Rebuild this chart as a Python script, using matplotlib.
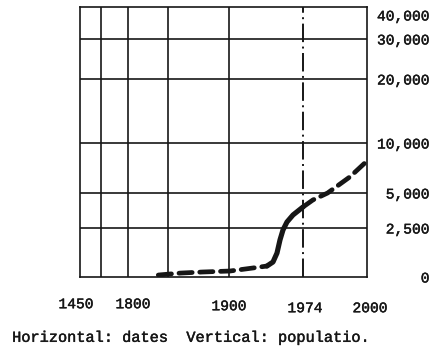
import numpy as np
import matplotlib
matplotlib.use("Agg")
import matplotlib.pyplot as plt
import matplotlib.patheffects as pe
from matplotlib.transforms import ScaledTranslation

# world population (millions) against date
years = [1830, 1852, 1874, 1901, 1924, 1938, 1944, 1948, 1951, 1954,
         1958, 1964, 1974, 1978, 1984, 1993, 2000]
population = [100, 200, 255, 305, 460, 560, 765, 1220, 1890, 2400,
              2930, 3430, 4000, 4500, 5000, 6600, 8200]

date_labels = ["1450", "1800", "1900", "1974", "2000"]
date_ticks = [1450, 1800, 1900, 1974, 2000]
pop_ticks = [0, 2500, 5000, 10000, 20000, 30000, 40000]
pop_labels = ["0", "2,500", "5,000", "10,000", "20,000", "30,000", "40,000"]
grid_years = [1600, 1800, 1840, 1900]
today = 1974

# hand-drawn, uneven axes: piecewise-linear scales
x_years = [1450, 1800, 1900, 1974, 2000]
x_pos = [0, 48, 149, 223, 287]
y_vals = [0, 2500, 5000, 10000, 20000, 30000, 40000]
y_pos = [0, 49, 84, 134, 198, 238, 270]

def x_fwd(v):
    return np.interp(v, x_years, x_pos)

def x_inv(p):
    return np.interp(p, x_pos, x_years)

def y_fwd(v):
    return np.interp(v, y_vals, y_pos)

def y_inv(p):
    return np.interp(p, y_pos, y_vals)

ink = "#161616"
mono = "Liberation Mono"
# typewriter ink spreads a little
typed = [pe.withStroke(linewidth=0.3, foreground=ink)]

fig = plt.figure(figsize=(4.34, 3.53), dpi=100)
ax = fig.add_axes([0.1843, 0.2153, 0.6613, 0.7649])
ax.set_xscale("function", functions=(x_fwd, x_inv))
ax.set_yscale("function", functions=(y_fwd, y_inv))
ax.set_xlim(1450, 2000)
ax.set_ylim(0, 40000)

ax.vlines(grid_years, 0, 40000, color=ink, lw=1.2)
ax.hlines(pop_ticks[1:-1], 1450, 2000, color=ink, lw=1.2)
ax.axvline(today, color=ink, lw=1.4, linestyle=(0, (9.5, 2.3, 1, 2.3)))

for s in ax.spines.values():
    s.set_color(ink)
    s.set_linewidth(1.2)

# projected / observed / projected pieces of the curve
i0 = years.index(1938)
i1 = years.index(today)
dash = dict(color=ink, lw=3.4, linestyle=(0, (2.8, 1.6)),
            dash_capstyle="round", solid_capstyle="round")
ax.plot(years[:i0 + 1], population[:i0 + 1], **dash)
ax.plot(years[i0:i1 + 1], population[i0:i1 + 1], color=ink, lw=3.7,
        solid_capstyle="round")
ax.plot(years[i1:], population[i1:], **dash)

ax.set_xticks(date_ticks)
ax.set_xticklabels(date_labels, family=mono, fontsize=10.5, color=ink,
                   path_effects=typed)
ax.set_yticks(pop_ticks)
ax.set_yticklabels(pop_labels, family=mono, fontsize=10.5, color=ink,
                   path_effects=typed)
ax.tick_params(axis="x", length=0, pad=16)
ax.tick_params(axis="y", length=0, left=False, labelleft=False,
               right=True, labelright=True, pad=45)
for lab in ax.get_yticklabels():
    lab.set_horizontalalignment("right")

# typed labels sit a little off their grid positions
x_nudge = [(-4, 2), (5, 2), (0, 0), (2, -2), (3, -2)]
for lab, (dx, dy) in zip(ax.get_xticklabels(), x_nudge):
    lab.set_transform(lab.get_transform()
                      + ScaledTranslation(dx / 100, dy / 100, fig.dpi_scale_trans))
top = ax.get_yticklabels()[-1]
top.set_transform(top.get_transform()
                  + ScaledTranslation(0, -8 / 100, fig.dpi_scale_trans))

fig.text(0.028, 0.043, "Horizontal: dates  Vertical: populatio.",
         family=mono, fontsize=11, color=ink, ha="left", va="center",
         path_effects=typed)

fig.savefig("out.png", dpi=100, facecolor="white")
